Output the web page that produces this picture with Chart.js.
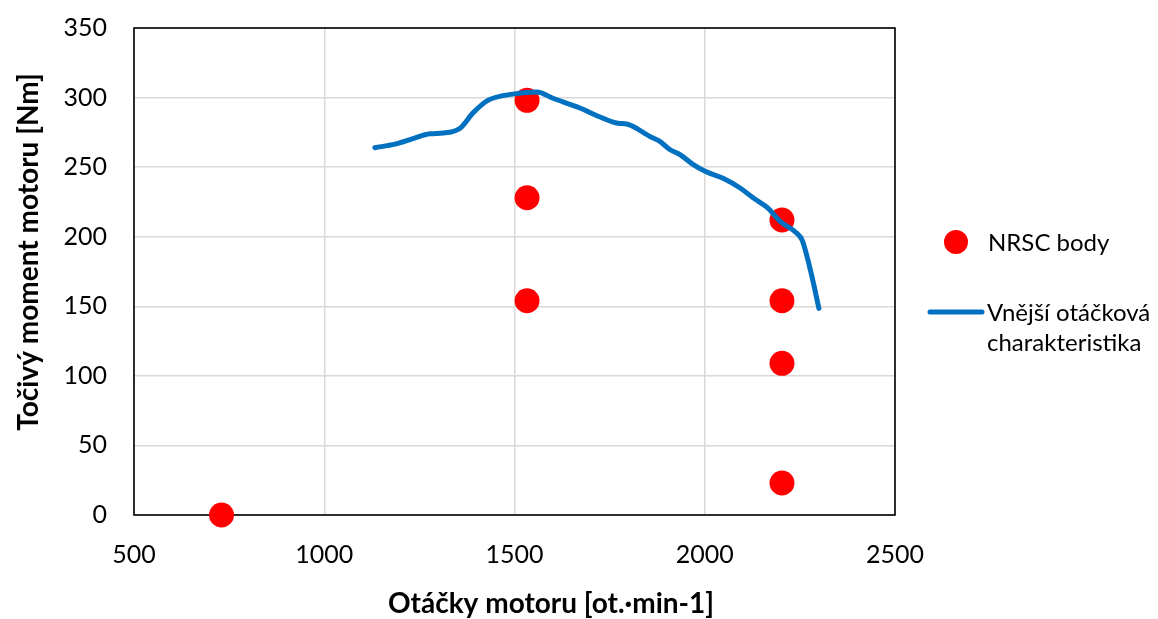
<!DOCTYPE html>
<html>
<head>
<meta charset="utf-8">
<script src="https://cdn.jsdelivr.net/npm/chart.js@4.4.1/dist/chart.umd.min.js"></script>
<style>
  html, body { margin: 0; padding: 0; background: #ffffff; }
  #wrap { width: 1158px; height: 619px; position: relative; }
</style>
</head>
<body>
<div id="wrap"><canvas id="c" width="1158" height="619"></canvas></div>
<script>
// NRSC test points
const nrscRpm    = [730, 1533, 1533, 1533, 2203, 2203, 2203, 2203];
const nrscTorque = [0, 298, 228, 154, 212, 154, 109, 23];

// Full-load (external speed) characteristic
const curveRpm    = [1133, 1186, 1233, 1278, 1312, 1357, 1391, 1430, 1496, 1559, 1601, 1672, 1725, 1772, 1795, 1856, 1882, 1909, 1935, 1969, 2001, 2048, 2093, 2127, 2164, 2198, 2242, 2256, 2282, 2300];
const curveTorque = [264, 266.5, 270.5, 274, 274.5, 278, 289, 298, 302.5, 304, 299.5, 292.5, 286, 281.5, 281, 272, 268.5, 262.5, 259, 252, 247, 242, 235, 228, 221, 211, 202.5, 197.5, 171, 148.5];

const xTicks = [500, 1000, 1500, 2000, 2500];
const yTicks = [0, 50, 100, 150, 200, 250, 300, 350];

const seriesNames = ['NRSC body', ['Vnější otáčková', 'charakteristika']];
const xTitle = 'Otáčky motoru [ot.·min-1]';
const yTitle = 'Točivý moment motoru [Nm]';

const FONT = 'Lato';

const borderPlugin = {
  id: 'plotBorder',
  beforeDatasetsDraw(chart) {
    const a = chart.chartArea, ctx = chart.ctx;
    ctx.save();
    ctx.strokeStyle = '#000000';
    ctx.lineWidth = 1.6;
    ctx.strokeRect(a.left, a.top, a.right - a.left, a.bottom - a.top);
    ctx.restore();
  }
};

const textPlugin = {
  id: 'titlesAndLegend',
  afterDraw(chart) {
    const ctx = chart.ctx;
    ctx.save();
    // axis titles
    ctx.fillStyle = '#000000';
    ctx.font = 'bold 28px ' + FONT;
    ctx.textAlign = 'center';
    ctx.textBaseline = 'middle';
    ctx.fillText(xTitle, 551, 604);
    ctx.save();
    ctx.translate(29, 252);
    ctx.rotate(-Math.PI / 2);
    ctx.fillText(yTitle, 0, 0);
    ctx.restore();

    // legend
    ctx.font = '24px ' + FONT;
    ctx.textAlign = 'left';
    ctx.beginPath();
    ctx.arc(956, 242, 12, 0, Math.PI * 2);
    ctx.fillStyle = '#ff0000';
    ctx.fill();
    ctx.fillStyle = '#000000';
    ctx.fillText(seriesNames[0], 988, 243);
    ctx.beginPath();
    ctx.moveTo(930, 312);
    ctx.lineTo(982, 312);
    ctx.strokeStyle = '#0070c0';
    ctx.lineWidth = 5;
    ctx.lineCap = 'round';
    ctx.stroke();
    ctx.fillText(seriesNames[1][0], 987, 313);
    ctx.fillText(seriesNames[1][1], 987, 343);
    ctx.restore();
  }
};

new Chart(document.getElementById('c'), {
  type: 'scatter',
  data: {
    datasets: [
      {
        label: 'Vnější otáčková charakteristika',
        data: curveRpm.map((x, i) => ({ x: x, y: curveTorque[i] })),
        showLine: true,
        borderColor: '#0070c0',
        backgroundColor: '#0070c0',
        borderWidth: 5,
        borderCapStyle: 'round',
        borderJoinStyle: 'round',
        pointRadius: 0,
        pointHoverRadius: 0,
        tension: 0.4,
        cubicInterpolationMode: 'monotone',
        order: 0,
        clip: false
      },
      {
        label: 'NRSC body',
        data: nrscRpm.map((x, i) => ({ x: x, y: nrscTorque[i] })),
        backgroundColor: '#ff0000',
        borderColor: '#ff0000',
        borderWidth: 0,
        pointRadius: 12.5,
        pointHoverRadius: 12.5,
        order: 1,
        clip: false
      }
    ]
  },
  options: {
    responsive: false,
    animation: false,
    events: [],
    layout: { padding: { left: 0, right: 263, top: 28, bottom: 0 } },
    plugins: {
      legend: { display: false },
      tooltip: { enabled: false },
      title: { display: false }
    },
    scales: {
      x: {
        type: 'linear',
        min: 500, max: 2500,
        afterBuildTicks(scale) { scale.ticks = xTicks.map(v => ({ value: v })); },
        afterFit(scale) { scale.height = 104; scale.paddingLeft = 0; scale.paddingRight = 0; },
        grid: { color: '#d9d9d9', lineWidth: 1.5, drawTicks: false },
        border: { display: false },
        ticks: { padding: 25, color: '#000000', font: { family: FONT, size: 25 }, maxRotation: 0, callback: v => String(v) },
        title: { display: false, text: xTitle }
      },
      y: {
        type: 'linear',
        min: 0, max: 350,
        afterBuildTicks(scale) { scale.ticks = yTicks.map(v => ({ value: v })); },
        afterFit(scale) { scale.width = 134; scale.paddingTop = 0; scale.paddingBottom = 0; },
        grid: { color: '#d9d9d9', lineWidth: 1.5, drawTicks: false },
        border: { display: false },
        ticks: { padding: 27, color: '#000000', font: { family: FONT, size: 25 }, callback: v => String(v) },
        title: { display: false, text: yTitle }
      }
    }
  },
  plugins: [borderPlugin, textPlugin]
});
</script>
</body>
</html>
